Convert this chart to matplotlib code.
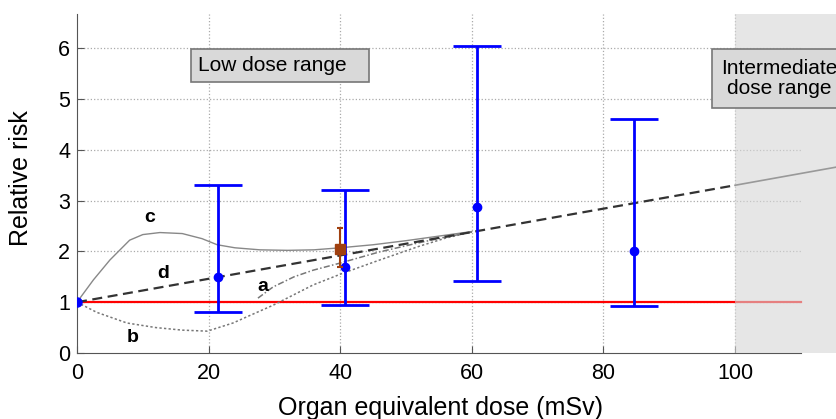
import numpy as np
import matplotlib.pyplot as plt
from matplotlib.patches import Rectangle

plt.rcParams['font.family'] = ['Liberation Sans', 'DejaVu Sans']

# Blue study points (dose, RR, lower CI, upper CI)
dose = [0, 21.4, 40.8, 60.8, 84.6]
rr = [1.0, 1.5, 1.7, 2.88, 2.0]
rr_lo = [1.0, 0.8, 0.95, 1.42, 0.92]
rr_hi = [1.0, 3.3, 3.2, 6.05, 4.6]

# Brown point
br_dose, br_rr, br_lo, br_hi = 40, 2.05, 1.7, 2.45

# Model curves
a_x = [27.5, 29.8, 33, 35.9, 40, 46, 52, 56, 60]
a_y = [1.08, 1.3, 1.5, 1.63, 1.77, 1.99, 2.17, 2.28, 2.38]
b_x = [0, 3, 7.6, 12, 16, 19.8, 23.7, 27, 29.8, 33, 35.9, 40.4, 46, 52, 56, 60]
b_y = [1.0, 0.8, 0.59, 0.5, 0.45, 0.43, 0.59, 0.78, 0.94, 1.15, 1.34, 1.57, 1.83, 2.1, 2.26, 2.38]
c_x = [0, 2.5, 5, 8, 10, 12.6, 16, 19, 21.3, 24, 27.8, 32, 36, 40, 45, 50, 55, 60]
c_y = [1.0, 1.44, 1.83, 2.22, 2.33, 2.37, 2.35, 2.25, 2.13, 2.07, 2.03, 2.02, 2.03, 2.07, 2.13, 2.21, 2.3, 2.39]
d_x = [0, 100]
d_y = [1.0, 3.3]
ext_x = [100, 115.5]
ext_y = [3.3, 3.66]

fig = plt.figure(figsize=(8.37, 4.19), dpi=100)
ax = fig.add_axes([0.092, 0.1575, 0.908, 0.8091])
ax.set_xlim(0, 115.5)
ax.set_ylim(0, 6.67)

# grid drawn to x=110 only
for yv in range(1, 7):
    ax.plot([0, 110], [yv, yv], color='#aaaaaa', ls=':', lw=0.9, zorder=1)
for xv in [20, 40, 60, 80, 100]:
    ax.plot([xv, xv], [0, 6.67], color='#aaaaaa', ls=':', lw=0.9, zorder=1)

ax.plot([0, 110], [1, 1], color='red', lw=1.6, zorder=2)
ax.axvspan(100, 115.5, color='#d6d6d6', alpha=0.6, lw=0, zorder=3)

ax.plot(c_x, c_y, color='#888888', lw=1.0, zorder=4)
ax.plot(b_x, b_y, color='#777777', lw=1.1, ls=(0, (1.5, 1.5)), zorder=4)
ax.plot(a_x, a_y, color='#777777', lw=1.1, ls=(0, (4, 1.5, 1, 1.5)), zorder=4)
ax.plot(d_x, d_y, color='#333333', lw=1.6, ls=(0, (4.5, 2.5)), zorder=5)
ax.plot(ext_x, ext_y, color='#999999', lw=1.2, zorder=5)

yerr = [np.array(rr) - np.array(rr_lo), np.array(rr_hi) - np.array(rr)]
ax.errorbar(dose[1:], rr[1:], yerr=[yerr[0][1:], yerr[1][1:]], fmt='o', color='#0000ff',
            ms=6, lw=2, capsize=17, capthick=2, zorder=6)
ax.plot(dose[0], rr[0], 'o', color='#0000ff', ms=6.5, zorder=7)
ax.errorbar([br_dose], [br_rr], yerr=[[br_rr - br_lo], [br_hi - br_rr]], fmt='s',
            color='#a0400f', ms=7, lw=1.5, capsize=2.5, capthick=1.5, zorder=7)

for lbl, lx, ly in [('c', 11.1, 2.66), ('d', 13.1, 1.56), ('a', 28.3, 1.3), ('b', 8.5, 0.31)]:
    ax.text(lx, ly, lbl, fontsize=14, fontweight='bold', ha='center', va='center', zorder=8)

ax.add_patch(Rectangle((17.3, 5.33), 27.1, 0.65, fc='#d9d9d9', ec='#777777', lw=1.2, zorder=8))
ax.text(18.4, 5.655, 'Low dose range', fontsize=15, ha='left', va='center', zorder=9)
ax.add_patch(Rectangle((96.5, 4.82), 25, 1.16, fc='#d9d9d9', ec='#777777', lw=1.2, zorder=8,
                       clip_on=False))
ax.text(97.9, 5.4, 'Intermediate\ndose range', fontsize=15, ha='left', va='center',
        multialignment='center', linespacing=1.05, zorder=9)

ax.set_xticks([0, 20, 40, 60, 80, 100])
ax.set_yticks(range(0, 7))
ax.tick_params(direction='in', labelsize=15.5, length=5, color='#555555')
ax.tick_params(axis='x', pad=7)
ax.tick_params(axis='y', pad=5)
for s in ['top', 'right']:
    ax.spines[s].set_visible(False)
ax.spines['bottom'].set_bounds(0, 110)
ax.spines['bottom'].set_color('#555555')
ax.spines['left'].set_color('#555555')
ax.set_xlabel('Organ equivalent dose (mSv)', fontsize=18)
ax.set_ylabel('Relative risk', fontsize=18)
ax.xaxis.set_label_coords(0.478, -0.128)
ax.yaxis.set_label_coords(-0.058, 0.516)

fig.savefig('out.png', dpi=100)
